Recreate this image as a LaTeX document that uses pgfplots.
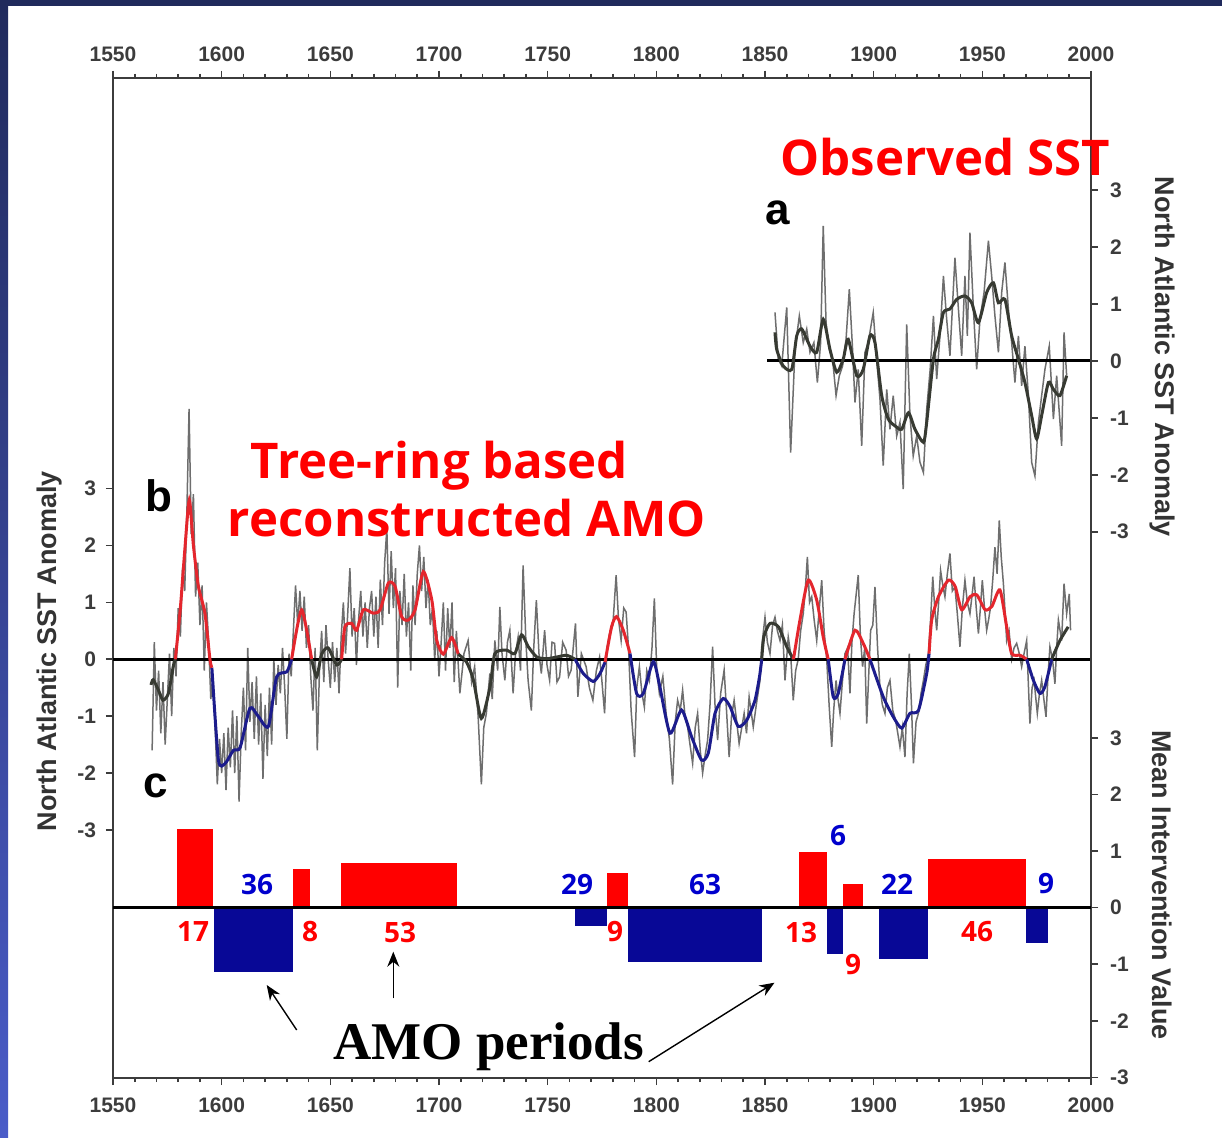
\documentclass[border=0pt]{standalone}
\usepackage{pgfplots}
\pgfplotsset{compat=1.18}
\usetikzlibrary{arrows.meta}
\usepackage{fontspec}
\setmainfont{Liberation Sans}
\newfontfamily\annf{Open Sans}
\newfontfamily\serf{Liberation Serif}
\definecolor{annual}{RGB}{110,110,110}
\definecolor{smdark}{RGB}{55,58,50}
\definecolor{smred}{RGB}{228,38,45}
\definecolor{smblue}{RGB}{28,28,140}
\definecolor{barred}{RGB}{255,0,0}
\definecolor{barblue}{RGB}{8,8,150}
\definecolor{numblue}{RGB}{0,0,205}
\definecolor{axgray}{RGB}{60,60,60}
\definecolor{navya}{RGB}{32,42,92}
\definecolor{navyb}{RGB}{74,92,200}
\pgfplotsset{
 base/.style={at={(56.5pt,29.5pt)}, anchor=south west, scale only axis,
  width=489pt, height=500pt, xmin=1550, xmax=2000,
  tick align=outside, major tick length=3.5pt, minor tick length=2pt,
  tick style={line width=0.8pt, axgray},
  ticklabel style={font=\bfseries\fontsize{10.5}{12}\selectfont, text=axgray},
  /pgf/number format/assume math mode=true, /pgf/number format/1000 sep={},
  axis line style={line width=1.2pt, axgray},
  ytick={-3,-2,-1,0,1,2,3},
  xtick={1550,1600,...,2000}, minor x tick num=4},
 gr/.style={no markers, annual, line width=0.75pt},
 sd/.style={no markers, smdark, line width=1.5pt, smooth, tension=0.4},
 sr/.style={no markers, smred, line width=1.5pt, smooth, tension=0.4},
 sb/.style={no markers, smblue, line width=1.5pt, smooth, tension=0.4},
 zl/.style={no markers, black, line width=1.6pt}
}
\begin{document}
\begin{tikzpicture}
\fill[white] (0,0) rectangle (611pt,568.5pt);
\fill[navya] (0,565.5pt) rectangle (611pt,568.5pt);
\shade[top color=navya, bottom color=navyb] (0,0) rectangle (4pt,568.5pt);
\path[use as bounding box] (0,0) rectangle (611pt,568.5pt);

% ---------- panel b (left axis) ----------
\begin{axis}[base, ymin=-7.359, ymax=10.216, axis lines=box,
  xtick pos=both, xticklabel pos=lower, ytick pos=left,
  xticklabel style={yshift=-3pt}, yticklabel style={xshift=-1.5pt}]
\addplot[gr] coordinates {
(1568,-1.6) (1569,0.3) (1570,-0.9) (1571,-0.2) (1572,-1.3) (1573,-0.4) (1574,-1.5) (1575,-0.7) (1576,0.1) (1577,-1.0) (1578,0.2) (1579,-0.3)
(1580,0.9) (1581,0.4) (1582,1.6) (1583,1.2) (1584,2.6) (1585,4.4) (1586,2.2) (1587,2.9) (1588,1.1) (1589,1.7) (1590,0.6) (1591,1.3)
(1592,-0.2) (1593,1.0) (1594,0.3) (1595,-0.7) (1596,-0.3) (1597,-1.2) (1598,-2.2) (1599,-1.4) (1600,-2.0) (1601,-1.3) (1602,-2.3)
(1603,-1.2) (1604,-1.9) (1605,-0.9) (1606,-2.0) (1607,-1.0) (1608,-2.5) (1609,-1.3) (1610,-0.5) (1611,-1.6) (1612,0.2) (1613,-1.1)
(1614,-0.4) (1615,-1.4) (1616,-0.3) (1617,-1.5) (1618,-0.6) (1619,-2.1) (1620,-0.8) (1621,-1.7) (1622,-0.5) (1623,-1.5) (1624,0.0)
(1625,-0.8) (1626,-0.1) (1627,-0.6) (1628,0.2) (1629,-0.5) (1630,-1.4) (1631,0.1) (1632,-0.3) (1633,0.5) (1634,1.3) (1635,0.6)
(1636,1.2) (1637,0.5) (1638,1.1) (1639,0.2) (1640,0.6) (1641,-0.3) (1642,-0.9) (1643,0.2) (1644,-1.6) (1645,-0.2) (1646,0.5)
(1647,-0.4) (1648,0.6) (1649,0.0) (1650,-0.5) (1651,0.3) (1652,-0.4) (1653,0.2) (1654,-0.6) (1655,0.4) (1656,1.0) (1657,0.1)
(1658,0.8) (1659,1.6) (1660,0.4) (1661,0.9) (1662,-0.1) (1663,0.7) (1664,1.2) (1665,0.4) (1666,1.0) (1667,0.2) (1668,0.9)
(1669,1.2) (1670,0.4) (1671,1.1) (1672,0.2) (1673,1.4) (1674,0.6) (1675,1.7) (1676,2.3) (1677,0.8) (1678,1.9) (1679,0.9)
(1680,1.6) (1681,-0.5) (1682,1.2) (1683,0.6) (1684,1.5) (1685,0.4) (1686,1.0) (1687,-0.2) (1688,1.3) (1689,0.6) (1690,1.5)
(1691,2.0) (1692,1.2) (1693,1.8) (1694,0.9) (1695,1.4) (1696,0.6) (1697,0.9) (1698,0.0) (1699,0.5) (1700,-0.3) (1701,0.3)
(1702,1.0) (1703,-0.2) (1704,0.9) (1705,0.2) (1706,1.0) (1707,-0.4) (1708,0.5) (1709.6,-0.6) (1711.5,0.1) (1713.4,0.33)
(1715,-0.4) (1716.4,-0.13) (1718,-1.0) (1719.5,-2.2) (1720.6,-1.2) (1721.8,-0.95) (1723.4,-0.25) (1724.5,-0.7) (1725.7,0.33)
(1727,-0.2) (1728,0.92) (1729,0.1) (1730.3,-0.37) (1731.5,0.3) (1732.6,0.51) (1734.1,-0.6) (1735.2,0.1) (1736.4,0.39)
(1737.5,-0.2) (1738.7,1.65) (1740,0.3) (1741,-0.37) (1742.5,-0.9) (1743.6,0.2) (1744.8,1.04) (1746,0.1) (1747.1,-0.25)
(1748.6,0.51) (1749.7,-0.1) (1750.9,-0.37) (1752,0.3) (1753.2,0.28) (1754.3,-0.4) (1755.5,-0.31) (1756.9,0.3) (1758.5,0.16)
(1759.6,-0.3) (1760.8,-0.19) (1762.8,0.63) (1763.9,-0.66) (1765.5,0.1) (1767.7,-0.13) (1769.2,-0.5) (1770.8,-0.72)
(1772.4,-0.2) (1773.9,0.04) (1775,-0.4) (1776.2,-0.95) (1777.3,0.2) (1778.5,0.45) (1780,0.6) (1781.5,1.48) (1782.6,0.7)
(1783.8,0.33) (1785,0.9) (1786.1,0.83) (1787.2,0.2) (1788.4,-0.9) (1790,-1.72) (1791,-0.5) (1792.2,-0.13) (1793.4,-0.6)
(1794.5,-0.84) (1795.6,-0.2) (1796.8,-0.37) (1798,0.2) (1799.1,1.07) (1800.2,-0.2) (1801.4,-0.6) (1803,-0.3) (1804.5,-0.95)
(1806,-1.4) (1807.5,-2.2) (1808.7,-1.1) (1809.8,-0.72) (1811,-0.9) (1812.1,-0.54) (1813.2,-1.0) (1814.4,-1.19) (1815.5,-1.5)
(1816.7,-1.83) (1817.9,-1.2) (1819,-0.95) (1820.2,-1.6) (1821.3,-2.0) (1822.4,-1.7) (1823.6,-1.42) (1824.7,-0.8) (1825.9,0.22)
(1827,-0.8) (1828.2,-1.42) (1829.6,-0.6) (1831.2,-0.19) (1832.3,-0.9) (1833.5,-1.72) (1834.6,-1.0) (1835.8,-0.72) (1837,-1.1)
(1838.1,-1.48) (1839.3,-1.2) (1840.4,-0.95) (1841.5,-1.3) (1842.7,-0.66) (1844.6,-1.19) (1846,-0.8) (1847.7,-0.37) (1848.5,0.22)
(1850,0.74) (1851.1,0.3) (1852.3,0.1) (1853.5,0.6) (1854.6,0.74) (1855.7,0.5) (1856.9,0.33) (1858,0.6) (1859.2,-0.37)
(1860.7,0.39) (1861.8,0.1) (1863,-0.72) (1864.1,-0.2) (1865.3,0.0) (1866.4,0.5) (1867.6,0.8) (1868.5,1.2) (1869.5,1.8)
(1870.5,1.0) (1871.5,1.1) (1872.6,0.7) (1873.8,0.33) (1875,0.9) (1876.1,1.39) (1877.2,0.5) (1878.4,0.0) (1879.5,-0.8)
(1880.7,-1.54) (1881.6,-0.9) (1882.7,-0.37) (1883.6,-0.7) (1884.5,-0.95) (1885.6,-0.4) (1886.8,0.1) (1888,0.2) (1889.1,-0.6)
(1890,0.3) (1891,0.8) (1892.9,1.48) (1893.9,0.4) (1894.9,-0.13) (1895.9,0.2) (1896.8,-1.13) (1897.7,-0.3) (1898.6,0.51)
(1899.6,0.6) (1900.6,1.27) (1901.8,0.2) (1902.9,-0.49) (1904,-0.8) (1905.2,-0.95) (1906.3,-0.5) (1907.5,-0.37) (1908.8,-0.9)
(1910.1,-1.07) (1911.1,-1.3) (1912.1,-1.54) (1913.2,-1.2) (1914.4,-1.72) (1915.4,-0.6) (1916.4,0.1) (1917.4,-0.8)
(1918.3,-1.83) (1919.5,-1.1) (1920.6,-0.95) (1921.8,-0.6) (1922.9,-0.37) (1924,-0.1) (1925.2,0.1) (1926.2,0.7) (1927.2,1.45)
(1928.1,0.9) (1929,0.51) (1929.9,1.0) (1930.8,1.56) (1931.8,1.3) (1932.8,1.1) (1933.9,1.5) (1935.1,1.86) (1936.2,1.2)
(1937.4,1.27) (1938.5,0.8) (1939.7,0.22) (1940.8,0.9) (1942,1.39) (1943.1,1.0) (1944.3,0.8) (1945.2,1.1) (1946.2,1.45)
(1947.2,0.9) (1948.2,0.45) (1949.1,0.9) (1950,1.39) (1951,0.9) (1952,0.51) (1952.9,0.7) (1953.8,0.92) (1954.8,1.4)
(1955.8,1.97) (1956.8,1.5) (1957.8,2.44) (1958.7,1.8) (1959.7,1.33) (1960.5,0.8) (1961.2,0.33) (1962.3,0.5) (1963.5,0.0)
(1964.6,0.2) (1965.8,0.28) (1967,0.1) (1968.1,-0.13) (1969.2,0.1) (1970.4,0.33) (1971.9,-1.13) (1972.9,-0.5) (1973.8,-0.37)
(1975.3,-0.95) (1976.3,-0.6) (1977.3,-0.37) (1978.3,-0.7) (1979.3,-1.01) (1980.2,-0.3) (1981.1,0.22) (1982.3,0.0)
(1983.4,-0.43) (1984.2,0.2) (1985,0.69) (1986.5,0.33) (1987.6,1.33) (1988.8,0.8) (1990,1.15) (1990.6,0.51)};
\addplot[zl] coordinates {(1550,0) (2000,0)};
% smoothed segments
\addplot[sd] coordinates {(1567.5,-0.45) (1568.5,-0.36) (1571,-0.55) (1573,-0.72) (1575.5,-0.6) (1577.7,-0.13) (1578.7,0)};
\addplot[sr] coordinates {(1578.7,0) (1581,0.9) (1583,1.9) (1585.1,2.8) (1587,2.0) (1589.3,1.28) (1592.3,0.81) (1594.6,0) (1595.5,-0.15)};
\addplot[sb] coordinates {(1595.5,-0.15) (1598.5,-1.77) (1601.6,-1.83) (1605.4,-1.6) (1608.5,-1.55) (1613,-0.86) (1616.8,-1.0) (1621.5,-1.18) (1625.3,-0.31) (1630,-0.22) (1632.2,0)};
\addplot[sr] coordinates {(1632.2,0) (1636.8,0.87) (1641.4,0)};
\addplot[sd] coordinates {(1641.4,0) (1643.7,-0.31) (1646,0.09) (1649,0.2) (1652.9,-0.1) (1655.2,0)};
\addplot[sr] coordinates {(1655.2,0) (1656.7,0.57) (1659.8,0.63) (1662.1,0.51) (1665.2,0.87) (1669.8,0.81) (1672.9,0.87) (1676.7,1.34) (1679.8,1.28) (1682.8,0.75) (1685.9,0.69) (1689,0.87) (1692.8,1.54) (1696.7,1.04) (1698.9,0.34) (1702,0.09) (1705.8,0.38) (1708.9,0.09)};
\addplot[sd] coordinates {(1708.9,0.09) (1712.7,-0.05) (1715.8,-0.36) (1719.5,-1.04) (1723.5,-0.48) (1725.7,0.1) (1731.1,0.16) (1734.9,0.1) (1738,0.43) (1741.1,0.22) (1745,0.04) (1749.6,0.01) (1754.2,0.04) (1758.8,0.07) (1762.6,0)};
\addplot[sb] coordinates {(1762.6,0) (1766.4,-0.25) (1771,-0.39) (1774.1,-0.25) (1776.4,-0.05)};
\addplot[sr] coordinates {(1776.4,-0.05) (1779.4,0.57) (1781.7,0.75) (1784.8,0.51) (1787.9,0.1)};
\addplot[sb] coordinates {(1787.9,0.1) (1790.9,-0.6) (1794,-0.6) (1798.6,-0.04) (1801.6,-0.48) (1806.3,-1.3) (1811.6,-0.89) (1816.2,-1.36) (1820.8,-1.77) (1823.9,-1.65) (1827,-0.95) (1830.8,-0.69) (1833.9,-0.83) (1837.7,-1.18) (1841.6,-1.07) (1845.4,-0.72) (1847.5,-0.3) (1848.5,0)};
\addplot[sd] coordinates {(1848.5,0) (1849.5,0.4) (1852.3,0.63) (1856.2,0.57) (1860,0.22) (1863.1,0)};
\addplot[sr] coordinates {(1863.1,0) (1866.1,0.69) (1869.9,1.39) (1873.8,1.04) (1876.8,0.39) (1879.1,0)};
\addplot[sb] coordinates {(1879.1,0) (1881.4,-0.66) (1883.7,-0.6) (1886.8,0)};
\addplot[sr] coordinates {(1886.8,0) (1891.4,0.51) (1895.2,0.28) (1898.3,0)};
\addplot[sb] coordinates {(1898.3,0) (1904.4,-0.66) (1909,-1.01) (1912.9,-1.21) (1916.7,-0.95) (1920.6,-0.9) (1924.4,-0.25) (1925.5,0.1)};
\addplot[sr] coordinates {(1925.5,0.1) (1926.7,0.69) (1929.8,1.1) (1934.4,1.39) (1937.5,1.28) (1940.5,0.87) (1944.4,1.1) (1947.5,1.13) (1951.3,0.87) (1954.4,0.93) (1958.1,1.22) (1961.2,0.57) (1963.5,0.1) (1967.4,0.07) (1970.4,0)};
\addplot[sb] coordinates {(1970.4,0) (1973.5,-0.37) (1976.5,-0.6) (1978.8,-0.48) (1981.9,0)};
\addplot[sd] coordinates {(1981.9,0) (1985.7,0.33) (1989.5,0.57)};
\end{axis}

% ---------- panel a (top right axis) ----------
\begin{axis}[base, ymin=-12.592, ymax=4.967, axis x line*=top, axis y line*=right,
  xticklabel style={yshift=1pt}, yticklabel style={xshift=2.5pt}]
\addplot[gr] coordinates {
(1854.6,0.85) (1856.1,0.03) (1857.7,-0.09) (1860,0.94) (1861.8,-1.61) (1863.8,0.2) (1865.8,0.79) (1867.6,0.32) (1869.2,0.56)
(1870.7,0.15) (1872.5,0.32) (1874.1,-0.38) (1875.6,0.32) (1876.8,2.37) (1878.1,0.67) (1879.6,0.2) (1881.1,0.03) (1882.7,-0.61)
(1884.2,-0.26) (1885.7,-0.09) (1887.3,0.38) (1888.8,1.26) (1890.3,0.2) (1891.4,-0.73) (1892.9,-0.15) (1894.5,-1.49) (1896,0.15)
(1897.5,0.32) (1899.8,0.85) (1901.4,0.03) (1902.9,-0.67) (1904.4,-1.84) (1906,-0.5) (1907.5,-1.2) (1909,-0.61) (1910.6,-1.32)
(1912.1,-1.08) (1913.6,-2.25) (1915.2,0.64) (1916.7,-0.96) (1918.2,-1.67) (1919.8,-1.32) (1921.3,-1.78) (1922.9,-1.96)
(1924.4,-0.85) (1926,-0.15) (1927.5,0.79) (1929,-0.32) (1930.5,0.44) (1932.1,1.49) (1933.6,0.73) (1935.1,0.09) (1937.4,1.81)
(1939,0.91) (1940.5,0.09) (1942,1.49) (1943.1,0.44) (1944.3,2.25) (1945.9,0.91) (1947.4,-0.15) (1948.9,0.73) (1950.8,1.2)
(1952.8,2.11) (1954.3,1.49) (1955.8,0.79) (1957.4,0.15) (1958.9,1.2) (1960.4,1.73) (1962,0.91) (1963.5,0.32) (1965,-0.38)
(1966.6,0.44) (1968.1,-0.44) (1969.6,0.26) (1971.2,-0.61) (1972.7,-1.78) (1974.2,-2.02) (1975.8,-1.08) (1977.3,-0.61)
(1978.8,-0.15) (1980.8,0.26) (1982.7,-1.02) (1984.2,-0.26) (1986.5,-1.49) (1987.6,0.5) (1988.8,-0.26)};
\addplot[zl] coordinates {(1851,0) (2000,0)};
\addplot[sd] coordinates {
(1854.6,0.5) (1855.4,0.2) (1858.4,-0.09) (1862.3,-0.15) (1864.6,0.44) (1866.9,0.56) (1870.7,0.26) (1873.8,0.15) (1876.8,0.73)
(1879.9,0.2) (1883,-0.2) (1886,0.03) (1888.3,0.38) (1892.2,-0.26) (1895.2,-0.15) (1898.3,0.44) (1900.6,0.32) (1903.7,-0.61)
(1906.7,-1.02) (1909.8,-1.14) (1912.9,-1.2) (1916,-0.91) (1919,-1.2) (1922.9,-1.43) (1924.4,-1.08) (1927.5,0.03) (1929.8,0.38)
(1932.1,0.85) (1935.1,0.91) (1938.2,1.08) (1942,1.14) (1945.1,1.02) (1948.2,0.67) (1952,1.2) (1955.1,1.37) (1957.4,1.02)
(1960.4,1.08) (1963.5,0.44) (1966.6,0.03) (1969.6,-0.38) (1972.7,-0.96) (1975,-1.37) (1977.3,-0.96) (1980.4,-0.38)
(1982.7,-0.5) (1985.7,-0.61) (1988.8,-0.26)};
\end{axis}

% ---------- panel c (bottom right axis) ----------
\begin{axis}[base, ymin=-3.009, ymax=14.659, axis x line=none, axis y line*=right,
  yticklabel style={xshift=2.5pt}]
\addplot[fill=barred, draw=none] coordinates {(1579.6,0) (1579.6,1.39) (1596.2,1.39) (1596.2,0)} -- cycle;
\addplot[fill=barblue, draw=none] coordinates {(1596.6,0) (1596.6,-1.13) (1632.7,-1.13) (1632.7,0)} -- cycle;
\addplot[fill=barred, draw=none] coordinates {(1632.7,0) (1632.7,0.68) (1640.6,0.68) (1640.6,0)} -- cycle;
\addplot[fill=barred, draw=none] coordinates {(1654.8,0) (1654.8,0.79) (1708.1,0.79) (1708.1,0)} -- cycle;
\addplot[fill=barblue, draw=none] coordinates {(1762.6,0) (1762.6,-0.32) (1777.2,-0.32) (1777.2,0)} -- cycle;
\addplot[fill=barred, draw=none] coordinates {(1777.2,0) (1777.2,0.61) (1786.8,0.61) (1786.8,0)} -- cycle;
\addplot[fill=barblue, draw=none] coordinates {(1786.8,0) (1786.8,-0.96) (1848.8,-0.96) (1848.8,0)} -- cycle;
\addplot[fill=barred, draw=none] coordinates {(1865.7,0) (1865.7,0.99) (1878.3,0.99) (1878.3,0)} -- cycle;
\addplot[fill=barblue, draw=none] coordinates {(1878.3,0) (1878.3,-0.82) (1885.9,-0.82) (1885.9,0)} -- cycle;
\addplot[fill=barred, draw=none] coordinates {(1885.9,0) (1885.9,0.41) (1895.3,0.41) (1895.3,0)} -- cycle;
\addplot[fill=barblue, draw=none] coordinates {(1902.3,0) (1902.3,-0.9) (1925.2,-0.9) (1925.2,0)} -- cycle;
\addplot[fill=barred, draw=none] coordinates {(1925.2,0) (1925.2,0.86) (1970.1,0.86) (1970.1,0)} -- cycle;
\addplot[fill=barblue, draw=none] coordinates {(1970.1,0) (1970.1,-0.63) (1980,-0.63) (1980,0)} -- cycle;
\addplot[zl] coordinates {(1550,0) (2000,0)};
\end{axis}

% ---------- annotations ----------
\node[anchor=base west, text=barred, font=\annf\bfseries\fontsize{24.6}{29}\selectfont, inner sep=0] at (390pt,480.5pt) {Observed SST};
\node[anchor=base, text=barred, font=\annf\bfseries\fontsize{24.6}{29}\selectfont, inner sep=0] at (219.75pt,329pt) {Tree-ring based};
\node[anchor=base, text=barred, font=\annf\bfseries\fontsize{24.6}{29}\selectfont, inner sep=0] at (233.5pt,300pt) {reconstructed AMO};
\node[anchor=base west, font=\bfseries\fontsize{22}{26}\selectfont, inner sep=0] at (382.5pt,456pt) {a};
\node[anchor=base west, font=\bfseries\fontsize{22}{26}\selectfont, inner sep=0] at (72.5pt,312.5pt) {b};
\node[anchor=base west, font=\bfseries\fontsize{22}{26}\selectfont, inner sep=0] at (71.5pt,169.5pt) {c};
\node[anchor=base west, font=\serf\bfseries\fontsize{26.5}{30}\selectfont, inner sep=0] at (166.5pt,39pt) {AMO periods};
\begin{scope}[every node/.style={font=\annf\bfseries\fontsize{14}{16}\selectfont, inner sep=0}]
\node[text=barred] at (96.5pt,102.5pt) {17};
\node[text=numblue] at (128.5pt,126.5pt) {36};
\node[text=barred] at (155pt,102.5pt) {8};
\node[text=barred] at (200pt,102.5pt) {53};
\node[text=numblue] at (288.5pt,126.5pt) {29};
\node[text=barred] at (307.5pt,102.5pt) {9};
\node[text=numblue] at (352.5pt,126.5pt) {63};
\node[text=barred] at (400.5pt,102.5pt) {13};
\node[text=numblue] at (419pt,150.5pt) {6};
\node[text=barred] at (426.5pt,86pt) {9};
\node[text=numblue] at (448.5pt,126.5pt) {22};
\node[text=barred] at (488.5pt,102.5pt) {46};
\node[text=numblue] at (523pt,126.5pt) {9};
\end{scope}
\draw[-{Stealth[length=7.5pt,width=6pt]}, line width=0.7pt] (148.35pt,53.5pt) -- (133.35pt,76pt);
\draw[-{Stealth[length=7.5pt,width=6pt]}, line width=0.7pt] (196.65pt,69.35pt) -- (196.65pt,92.65pt);
\draw[-{Stealth[length=7.5pt,width=6pt]}, line width=0.7pt] (324.35pt,37.65pt) -- (387.25pt,77.15pt);
\begin{scope}[every node/.style={font=\bfseries\fontsize{13.5}{15}\selectfont, text=black!80, inner sep=0}]
\node[rotate=90] at (25pt,243pt) {North Atlantic SST Anomaly};
\node[rotate=-90] at (581pt,390pt) {North Atlantic SST Anomaly};
\node[rotate=-90] at (581pt,126pt) {Mean Intervention Value};
\end{scope}
\end{tikzpicture}
\end{document}
